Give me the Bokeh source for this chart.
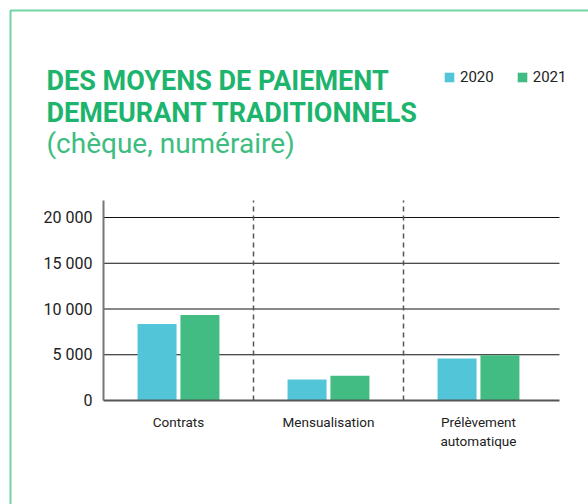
import numpy as np
from bokeh.plotting import figure
from bokeh.models import (ColumnDataSource, Range1d, FixedTicker, Label,
                          Legend, LegendItem, BoxAnnotation, LinearAxis)
from bokeh.transform import dodge
from bokeh.embed import file_html
from bokeh.resources import INLINE

# ---- data ----
categories = ["Contrats", "Mensualisation", "Prélèvement\nautomatique"]
years = ["2020", "2021"]
values_2020 = [8350, 2300, 4600]
values_2021 = [9350, 2700, 4950]
y_ticks = [0, 5000, 10000, 15000, 20000]
y_tick_labels = ["0", "5 000", "10 000", "15 000", "20 000"]
y_max = 21860

title_lines = ["DES MOYENS DE PAIEMENT", "DEMEURANT TRADITIONNELS"]
subtitle = "(chèque, numéraire)"

# ---- style / layout ----
FONT = "Roboto"
C2020 = "#52c6d8"
C2021 = "#43bc83"
TITLE_C = "#1db46e"
SUB_C = "#3dbd80"
BORDER_C = "#72d3a5"
W, H = 588, 504
X0, Y0 = 103, 400                 # page pixel of data origin
PX_PER_CAT = 150.0                # pixels per category
PX_PER_Y = 183.0 / 20000.0        # pixels per unit value
BAR_W = 0.26
BAR_OFF = 0.143


def px_x(px):
    return (px - X0) / PX_PER_CAT


def px_y(py):
    return (Y0 - py) / PX_PER_Y


pos = np.arange(len(categories)) + 0.5
x_end = len(categories) + 0.04
src = ColumnDataSource(dict(x=pos, v2020=values_2020, v2021=values_2021))

p = figure(width=W, height=H, output_backend="svg", toolbar_location=None,
           x_range=Range1d(px_x(0), px_x(W)), y_range=Range1d(px_y(H), px_y(0)),
           x_axis_location=None, y_axis_location=None, min_border=0)
p.outline_line_color = None
p.background_fill_color = "white"
p.border_fill_color = "white"
p.xgrid.grid_line_color = None
p.ygrid.grid_line_color = None

# grid lines (bounded to the plot width)
grid_ticks = [t for t in y_ticks if t > 0]
p.segment(x0=[0] * len(grid_ticks), x1=[x_end] * len(grid_ticks),
          y0=grid_ticks, y1=grid_ticks, line_color="#111111", line_width=1)

# dashed separators between categories
seps = list(np.arange(1, len(categories)))
p.segment(x0=seps, x1=seps, y0=[0] * len(seps), y1=[y_max] * len(seps),
          line_color="#555555", line_width=1.5, line_dash="5 4")

r1 = p.vbar(x=dodge("x", -BAR_OFF, range=p.x_range), top="v2020", width=BAR_W,
            source=src, fill_color=C2020, line_color=None)
r2 = p.vbar(x=dodge("x", BAR_OFF, range=p.x_range), top="v2021", width=BAR_W,
            source=src, fill_color=C2021, line_color=None)

# y axis
yaxis = LinearAxis(fixed_location=0, bounds=(0, y_max),
                   ticker=FixedTicker(ticks=y_ticks),
                   major_label_overrides={t: l for t, l in zip(y_ticks, y_tick_labels)},
                   axis_line_color="#777777", axis_line_width=2,
                   major_tick_line_color=None, minor_tick_line_color=None,
                   major_label_standoff=5, major_label_text_font=FONT,
                   major_label_text_font_size="16px",
                   major_label_text_color="#222222")
p.add_layout(yaxis, "left")

# x axis
xaxis = LinearAxis(fixed_location=0, bounds=(0, x_end),
                   ticker=FixedTicker(ticks=list(pos)),
                   major_label_overrides={float(x): c for x, c in zip(pos, categories)},
                   axis_line_color="#555555", axis_line_width=2,
                   major_tick_line_color=None, minor_tick_line_color=None,
                   major_label_standoff=7, major_label_text_font=FONT,
                   major_label_text_font_size="13.5px",
                   major_label_text_color="#222222")
p.add_layout(xaxis, "below")

# titles
for txt, base, bold, col, size in [(title_lines[0], 80, True, TITLE_C, "27px"),
                                   (title_lines[1], 112, True, TITLE_C, "27px"),
                                   (subtitle, 143, False, SUB_C, "28px")]:
    p.add_layout(Label(x=px_x(46), y=px_y(base), text=txt, text_font=FONT,
                       text_font_style="bold" if bold else "normal",
                       text_font_size=size, text_color=col,
                       text_baseline="alphabetic"))

# legend
legend = Legend(items=[LegendItem(label=years[0], renderers=[r1]),
                       LegendItem(label=years[1], renderers=[r2])],
                orientation="horizontal", location=(443, H - 86),
                glyph_width=12, glyph_height=12, label_height=12,
                label_standoff=5, spacing=22,
                padding=0, margin=0, border_line_color=None,
                background_fill_alpha=0, label_text_font=FONT,
                label_text_font_size="15px", label_text_color="#222222")
p.add_layout(legend, "center")

# frame border (top + left)
p.add_layout(BoxAnnotation(left=px_x(10), right=px_x(W + 50),
                           bottom=px_y(H + 50), top=px_y(10),
                           fill_color=None, fill_alpha=0,
                           line_color=BORDER_C, line_alpha=1.0, line_width=2))

open("out.html", "w").write(file_html(p, INLINE))
